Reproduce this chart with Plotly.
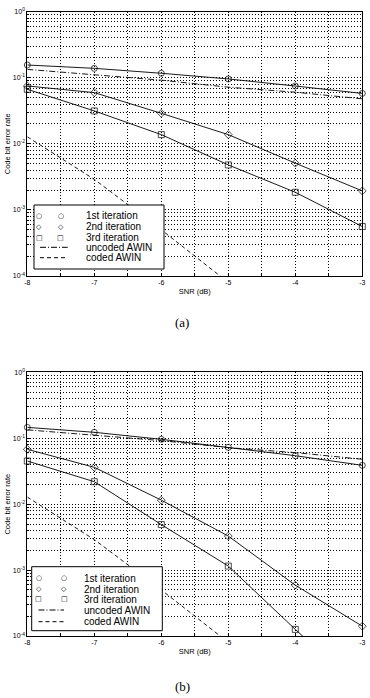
import plotly.graph_objects as go

# ---------------- data ----------------
snr = [-8, -7, -6, -5, -4, -3]
snr_coded = [-8, -7, -6, -5]

a_iter1 = [0.156, 0.139, 0.117, 0.096, 0.075, 0.058]
a_iter2 = [0.0752, 0.0596, 0.029, 0.0138, 0.0051, 0.00194]
a_iter3 = [0.067, 0.0315, 0.0138, 0.0048, 0.00185, 0.00056]

b_iter1 = [0.146, 0.123, 0.0963, 0.0728, 0.0543, 0.0388]
b_iter2 = [0.0679, 0.0362, 0.0115, 0.00328, 0.00059, 0.000141]
b_iter3 = [0.0451, 0.0219, 0.0049, 0.00115, 0.000126, 0.000015]

uncoded_awin = [0.134, 0.111, 0.092, 0.072, 0.0605, 0.048]
coded_awin = [0.0128, 0.0029, 0.0005, 0.00008]

y_tick_vals = [1e-4, 1e-3, 1e-2, 1e-1, 1e0]
y_tick_text = ["10<sup>-4</sup>", "10<sup>-3</sup>", "10<sup>-2</sup>", "10<sup>-1</sup>", "10<sup>0</sup>"]
x_tick_text = [str(v) for v in snr]

legend_labels = ["1st iteration", "2nd iteration", "3rd iteration", "uncoded AWIN", "coded AWIN"]
legend_glyphs = ["○", "◇", "□"]
captions = ["(a)", "(b)"]

# ---------------- layout constants ----------------
W, H = 370, 698
FONT = "Liberation Sans, Arial, sans-serif"
YMIN = 1e-4

def px_x(p):
    return p / W

def px_y(p):
    return 1 - p / H

panels = [
    dict(iters=[a_iter1, a_iter2, a_iter3], top=11.7, bottom=276.0,
         box=(34, 164, 205, 269), rows=[215.7, 226.7, 237.7, 247.3, 257.7],
         mcols=[39.0, 60.7], lcols=[40.0, 67.7], tx=84.0, cap_y=322.7),
    dict(iters=[b_iter1, b_iter2, b_iter3], top=372.3, bottom=636.0,
         box=(31.7, 162.3, 566.7, 630.7), rows=[578.0, 589.0, 599.3, 610.0, 621.7],
         mcols=[38.5, 64.0], lcols=[38.5, 64.0], tx=82.0, cap_y=686.0),
]
X_LEFT, X_RIGHT = 27.3, 362.3

symbols = ["circle-open", "diamond-open", "square-open"]

fig = go.Figure()
shapes = []
annotations = []

minor_y = [m * 10.0 ** e for e in range(-4, 0) for m in range(2, 10)]
minor_x = [v + 0.5 for v in snr[:-1]]

for k, p in enumerate(panels):
    sfx = "" if k == 0 else str(k + 1)
    xa, ya = "x" + sfx, "y" + sfx

    for i, series in enumerate(p["iters"]):
        sizes = [6 if v >= YMIN else 0 for v in series]
        fig.add_trace(go.Scatter(
            x=snr, y=series, mode="lines+markers", name=legend_labels[i],
            xaxis=xa, yaxis=ya, showlegend=False, cliponaxis=False,
            line=dict(color="black", width=0.9),
            marker=dict(symbol=symbols[i], size=sizes, color="black",
                        line=dict(color="black", width=1)),
        ))
    fig.add_trace(go.Scatter(
        x=snr, y=uncoded_awin, mode="lines", name=legend_labels[3],
        xaxis=xa, yaxis=ya, showlegend=False,
        line=dict(color="black", width=0.9, dash="6px,2px,1px,2px"),
    ))
    fig.add_trace(go.Scatter(
        x=snr_coded, y=coded_awin, mode="lines", name=legend_labels[4],
        xaxis=xa, yaxis=ya, showlegend=False,
        line=dict(color="black", width=0.9, dash="4px,3px"),
    ))

    dom_y = [px_y(p["bottom"]), px_y(p["top"])]
    axis_common = dict(
        showline=True, mirror=True, linecolor="black", linewidth=1,
        ticks="inside", tickcolor="black", ticklen=3,
        showgrid=True, gridcolor="black", gridwidth=1, griddash="1px,2px",
        zeroline=False, automargin=False,
        tickfont=dict(family=FONT, size=7, color="black"),
    )
    fig.layout["xaxis" + sfx] = dict(
        axis_common, domain=[px_x(X_LEFT), px_x(X_RIGHT)], anchor=ya,
        range=[-8, -3], tickmode="array", tickvals=snr, ticktext=x_tick_text,
        minor=dict(tickmode="array", tickvals=minor_x, showgrid=True,
                   gridcolor="black", gridwidth=1, griddash="1px,2px",
                   ticks="inside", ticklen=2, tickcolor="black"),
        title=dict(text="SNR (dB)", font=dict(family=FONT, size=7.5, color="black"), standoff=3),
    )
    fig.layout["yaxis" + sfx] = dict(
        axis_common, domain=dom_y, anchor=xa, type="log", range=[-4, 0],
        tickmode="array", tickvals=y_tick_vals, ticktext=y_tick_text,
        minor=dict(tickmode="array", tickvals=minor_y, showgrid=True,
                   gridcolor="black", gridwidth=1, griddash="1px,2px",
                   ticks="inside", ticklen=2, tickcolor="black"),
        title=dict(text="Code bit error rate", font=dict(family=FONT, size=7.5, color="black"), standoff=1),
    )

    # ---- custom legend (box, glyphs, line samples, labels) ----
    bx0, bx1, by0, by1 = p["box"]
    shapes.append(dict(type="rect", xref="paper", yref="paper",
                       x0=px_x(bx0), x1=px_x(bx1), y0=px_y(by1), y1=px_y(by0),
                       line=dict(color="black", width=1), fillcolor="white", layer="above"))
    for r, label in enumerate(legend_labels):
        ry = px_y(p["rows"][r])
        annotations.append(dict(xref="paper", yref="paper", x=px_x(p["tx"]), y=ry,
                                xanchor="left", yanchor="middle", showarrow=False,
                                text=label, font=dict(family=FONT, size=10, color="black")))
        if r < 3:
            for cx in p["mcols"]:
                annotations.append(dict(xref="paper", yref="paper", x=px_x(cx), y=ry,
                                        xanchor="center", yanchor="middle", showarrow=False,
                                        text=legend_glyphs[r],
                                        font=dict(family="DejaVu Sans", size=7, color="black")))
        else:
            dash = "6px,2px,1px,2px" if r == 3 else "4px,3px"
            shapes.append(dict(type="line", xref="paper", yref="paper",
                               x0=px_x(p["lcols"][0]), x1=px_x(p["lcols"][1]), y0=ry, y1=ry,
                               line=dict(color="black", width=1, dash=dash), layer="above"))

    annotations.append(dict(xref="paper", yref="paper", x=px_x(182), y=px_y(p["cap_y"]),
                            xanchor="center", yanchor="middle", showarrow=False,
                            text=captions[k],
                            font=dict(family="Liberation Serif, DejaVu Serif, serif", size=13, color="black")))

fig.update_layout(
    width=W, height=H, autosize=False,
    margin=dict(l=0, r=0, t=0, b=0),
    paper_bgcolor="white", plot_bgcolor="white",
    showlegend=False,
    shapes=shapes, annotations=annotations,
    font=dict(family=FONT, color="black"),
)

# remove the default page margin so the 370x698 figure fills the window exactly
fig.write_html(
    "out.html",
    config={"displayModeBar": False},
    post_script="document.body.style.margin='0';document.body.style.overflow='hidden';",
)
